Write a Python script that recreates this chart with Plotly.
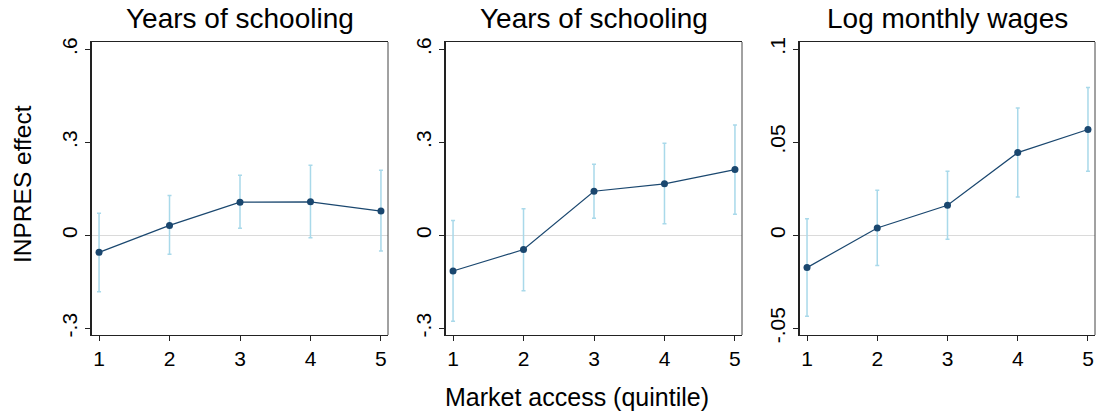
import plotly.graph_objects as go

# Market-access quintiles on the x axis
quintiles = [1, 2, 3, 4, 5]

# Panel titles
titles = ["Years of schooling", "Years of schooling", "Log monthly wages"]

# Point estimates and 95% confidence bounds, one set per panel
school_a_est = [-0.055, 0.032, 0.107, 0.108, 0.078]
school_a_lo = [-0.182, -0.061, 0.023, -0.008, -0.051]
school_a_hi = [0.071, 0.128, 0.194, 0.226, 0.210]

school_b_est = [-0.115, -0.046, 0.142, 0.166, 0.212]
school_b_lo = [-0.277, -0.179, 0.055, 0.037, 0.068]
school_b_hi = [0.048, 0.086, 0.229, 0.297, 0.356]

wage_est = [-0.0174, 0.0039, 0.0161, 0.0444, 0.0568]
wage_lo = [-0.0435, -0.0163, -0.0022, 0.0206, 0.0344]
wage_hi = [0.0088, 0.0242, 0.0344, 0.0683, 0.0794]

# Y tick values / labels per panel
school_ticks = [-0.3, 0, 0.3, 0.6]
school_ticktext = ["-.3", "0", ".3", ".6"]
wage_ticks = [-0.05, 0, 0.05, 0.1]
wage_ticktext = ["-.05", "0", ".05", ".1"]

x_ticktext = ["1", "2", "3", "4", "5"]

W, H = 1096, 414
FONT = "Liberation Sans, Arial, Helvetica, sans-serif"
NAVY = "#1a476f"
CI_COLOR = "#a9d9ea"

panels = [
    (school_a_est, school_a_lo, school_a_hi, school_ticks, school_ticktext, [-0.3216, 0.6235]),
    (school_b_est, school_b_lo, school_b_hi, school_ticks, school_ticktext, [-0.3216, 0.6235]),
    (wage_est, wage_lo, wage_hi, wage_ticks, wage_ticktext, [-0.0536, 0.1038]),
]

# Plot-box pixel extents
x_boxes = [(92, 388), (446, 742), (800, 1095)]
y_top, y_bot = 42, 335

fig = go.Figure()

for i, (est, lo, hi, yt, ytt, yr) in enumerate(panels):
    n = i + 1
    xa = "x" if n == 1 else f"x{n}"
    ya = "y" if n == 1 else f"y{n}"
    plus = [h - e for h, e in zip(hi, est)]
    minus = [e - l for e, l in zip(est, lo)]
    fig.add_trace(go.Scatter(
        x=quintiles, y=est, xaxis=xa, yaxis=ya,
        mode="lines+markers",
        line=dict(color=NAVY, width=1.2),
        marker=dict(color=NAVY, size=7),
        error_y=dict(type="data", symmetric=False, array=plus, arrayminus=minus,
                     color=CI_COLOR, thickness=1.5, width=2),
        showlegend=False,
    ))
    x0, x1 = x_boxes[i]
    xdom = [x0 / W, x1 / W]
    ydom = [1 - y_bot / H, 1 - y_top / H]
    xkey = "xaxis" if n == 1 else f"xaxis{n}"
    ykey = "yaxis" if n == 1 else f"yaxis{n}"
    fig.update_layout(**{
        xkey: dict(
            domain=xdom, anchor=ya, range=[0.9, 5.1], automargin=False,
            tickvals=quintiles, ticktext=x_ticktext,
            showline=True, linecolor="#222222", linewidth=1, mirror=True,
            ticks="outside", ticklen=5, tickcolor="#222222",
            showgrid=False, zeroline=False,
            tickfont=dict(family=FONT, size=21, color="black"),
        ),
        ykey: dict(
            domain=ydom, anchor=xa, range=yr, automargin=False,
            tickvals=yt, ticktext=ytt, tickangle=-90,
            showline=True, linecolor="#222222", linewidth=2, mirror=False,
            ticks="outside", ticklen=5, tickcolor="#222222",
            showgrid=False, zeroline=True, zerolinecolor="#dadada", zerolinewidth=1,
            tickfont=dict(family=FONT, size=21, color="black"),
        ),
    })
    # right-hand frame edge
    fig.add_shape(type="line", xref=f"{xa} domain", yref=f"{ya} domain",
                  x0=1, x1=1, y0=0, y1=1, line=dict(color="#444444", width=1))
    fig.add_annotation(text=titles[i], xref="paper", yref="paper",
                       x=(x0 + x1) / 2 / W, y=1 - 19 / H, xanchor="center", yanchor="middle",
                       showarrow=False, font=dict(family=FONT, size=28, color="black"))

fig.add_annotation(text="INPRES effect", xref="paper", yref="paper",
                   x=22 / W, y=1 - 184 / H, xanchor="center", yanchor="middle",
                   textangle=-90, showarrow=False,
                   font=dict(family=FONT, size=24.5, color="black"))
fig.add_annotation(text="Market access (quintile)", xref="paper", yref="paper",
                   x=577 / W, y=1 - 397 / H, xanchor="center", yanchor="middle",
                   showarrow=False, font=dict(family=FONT, size=25, color="black"))

fig.update_layout(
    width=W, height=H,
    margin=dict(l=0, r=0, t=0, b=0),
    paper_bgcolor="white", plot_bgcolor="white",
)

fig.write_html("out.html")
